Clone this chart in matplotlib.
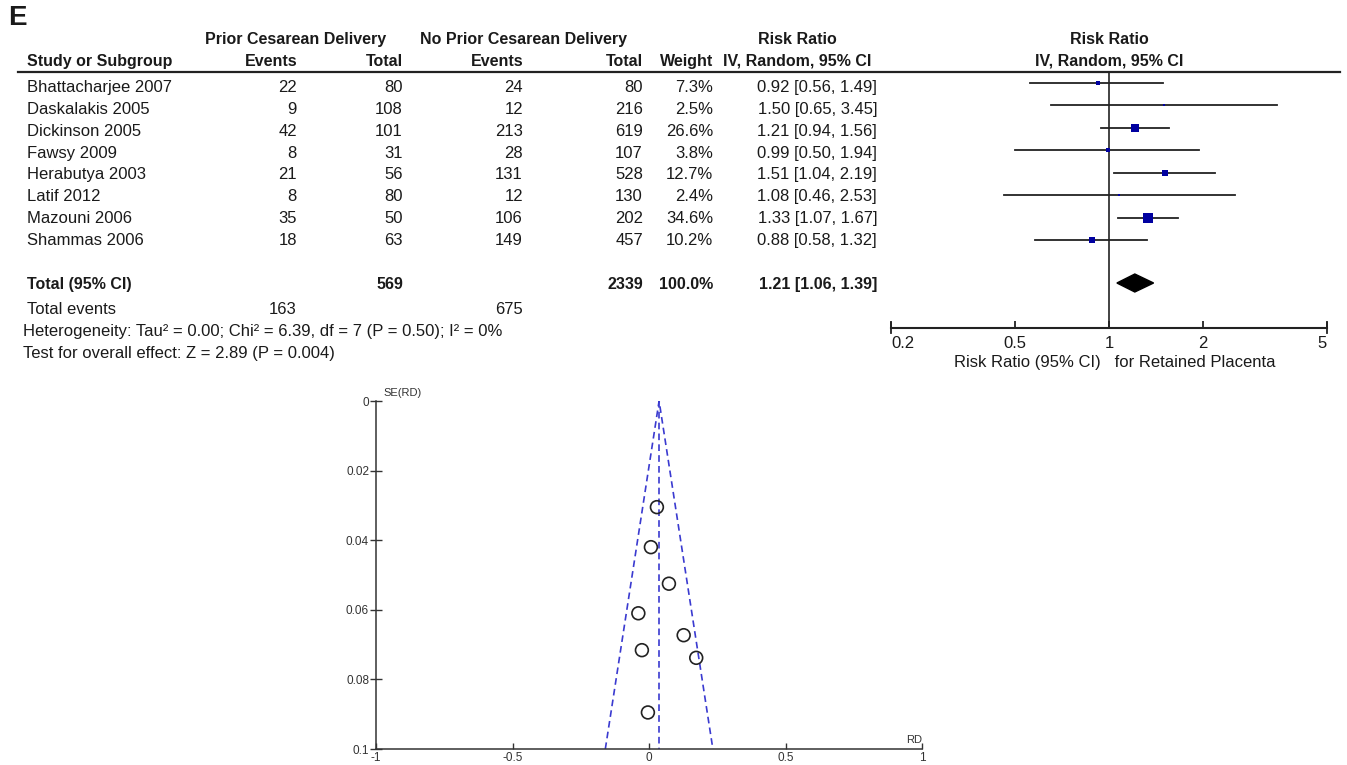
import matplotlib
matplotlib.use("Agg")
import matplotlib.pyplot as plt

# forest plot data
studies = ["Bhattacharjee 2007", "Daskalakis 2005", "Dickinson 2005", "Fawsy 2009",
           "Herabutya 2003", "Latif 2012", "Mazouni 2006", "Shammas 2006"]
prior_events = [22, 9, 42, 8, 21, 8, 35, 18]
prior_total = [80, 108, 101, 31, 56, 80, 50, 63]
noprior_events = [24, 12, 213, 28, 131, 12, 106, 149]
noprior_total = [80, 216, 619, 107, 528, 130, 202, 457]
weight = [7.3, 2.5, 26.6, 3.8, 12.7, 2.4, 34.6, 10.2]
rr = [0.92, 1.50, 1.21, 0.99, 1.51, 1.08, 1.33, 0.88]
rr_lo = [0.56, 0.65, 0.94, 0.50, 1.04, 0.46, 1.07, 0.58]
rr_hi = [1.49, 3.45, 1.56, 1.94, 2.19, 2.53, 1.67, 1.32]
total_rr, total_lo, total_hi = 1.21, 1.06, 1.39
forest_ticks = [0.2, 0.5, 1, 2, 5]
forest_ticklabels = ["0.2", "0.5", "1", "2", "5"]

# funnel plot data
rd = [0.029, 0.007, 0.073, -0.039, 0.127, -0.026, 0.173, -0.004]
se_rd = [0.0305, 0.042, 0.0525, 0.061, 0.0673, 0.0716, 0.0738, 0.0895]
funnel_center = 0.037
funnel_left, funnel_right = -0.16, 0.234
funnel_xticks = [-1, -0.5, 0, 0.5, 1]
funnel_xlabels = ["-1", "-0.5", "0", "0.5", "1"]
funnel_yticks = [0, 0.02, 0.04, 0.06, 0.08, 0.1]
funnel_ylabels = ["0", "0.02", "0.04", "0.06", "0.08", "0.1"]

plt.rcParams['font.family'] = ['Liberation Sans', 'DejaVu Sans']
W, H = 1347, 765
fig = plt.figure(figsize=(W / 100, H / 100), dpi=100)
tc = '#1a1a1a'
fs = 12      # plain text
fsb = 11.5   # bold headers

# background axes in pixel coords for all the table text
bg = fig.add_axes([0, 0, 1, 1])
bg.set_xlim(0, W)
bg.set_ylim(H, 0)
bg.axis('off')

def txt(x, y, s, ha='left', bold=False, size=None):
    if size is None:
        size = fsb if bold else fs
    bg.text(x, y, s, ha=ha, va='center', fontsize=size, color=tc,
            fontweight='bold' if bold else 'normal')

txt(8, 18, "E", bold=True, size=20)
txt(296, 39, "Prior Cesarean Delivery", ha='center', bold=True)
txt(524, 39, "No Prior Cesarean Delivery", ha='center', bold=True)
txt(797, 39, "Risk Ratio", ha='center', bold=True)
txt(1109, 39, "Risk Ratio", ha='center', bold=True)
txt(27, 61, "Study or Subgroup", bold=True)
txt(297, 61, "Events", ha='right', bold=True)
txt(403, 61, "Total", ha='right', bold=True)
txt(523, 61, "Events", ha='right', bold=True)
txt(643, 61, "Total", ha='right', bold=True)
txt(713, 61, "Weight", ha='right', bold=True)
txt(797, 61, "IV, Random, 95% CI", ha='center', bold=True)
txt(1109, 61, "IV, Random, 95% CI", ha='center', bold=True)
bg.plot([18, 1340], [71.5, 71.5], color='#222222', lw=1.6)

for i, name in enumerate(studies):
    y = 87.5 + i * 21.85
    txt(27, y, name)
    txt(297, y, str(prior_events[i]), ha='right')
    txt(403, y, str(prior_total[i]), ha='right')
    txt(523, y, str(noprior_events[i]), ha='right')
    txt(643, y, str(noprior_total[i]), ha='right')
    txt(713, y, f"{weight[i]:.1f}%", ha='right')
    txt(877, y, f"{rr[i]:.2f} [{rr_lo[i]:.2f}, {rr_hi[i]:.2f}]", ha='right')

txt(27, 284, "Total (95% CI)", bold=True)
txt(403, 284, str(sum(prior_total)), ha='right', bold=True)
txt(643, 284, str(sum(noprior_total)), ha='right', bold=True)
txt(713, 284, "100.0%", ha='right', bold=True)
txt(877, 284, f"{total_rr:.2f} [{total_lo:.2f}, {total_hi:.2f}]", ha='right', bold=True)
txt(27, 309, "Total events")
txt(297, 309, str(sum(prior_events)), ha='right')
txt(523, 309, str(sum(noprior_events)), ha='right')
txt(23, 331, "Heterogeneity: Tau² = 0.00; Chi² = 6.39, df = 7 (P = 0.50); I² = 0%")
txt(23, 353, "Test for overall effect: Z = 2.89 (P = 0.004)")
txt(1115, 362, "Risk Ratio (95% CI)   for Retained Placenta", ha='center')

# forest plot
fx0, fx1, fy0, fy1 = 891, 1327, 72, 328
ax = fig.add_axes([fx0 / W, 1 - fy1 / H, (fx1 - fx0) / W, (fy1 - fy0) / H])
ax.set_xscale('log')
ax.set_xlim(0.2, 5)
ax.set_ylim(fy1, fy0)
ax.patch.set_alpha(0)
for s in ['top', 'left', 'right']:
    ax.spines[s].set_visible(False)
ax.spines['bottom'].set_linewidth(1.5)
ax.spines['bottom'].set_color('#222222')
ax.set_xticks(forest_ticks)
ax.set_xticklabels(forest_ticklabels)
ax.minorticks_off()
ax.set_yticks([])
ax.tick_params(axis='x', direction='in', length=5, width=1.3, pad=6,
               labelsize=fs, labelcolor=tc, color='#222222')
labs = ax.get_xticklabels()
labs[0].set_ha('left')
labs[-1].set_ha('right')
ax.axvline(1, color='#222222', lw=1.2)
ax.plot([0.2, 0.2], [fy1 - 5, fy1 + 5], color='#222222', lw=1.3, clip_on=False)
ax.plot([5, 5], [fy1 - 5, fy1 + 5], color='#222222', lw=1.3, clip_on=False)

for i in range(len(studies)):
    y = 82.7 + i * 22.47
    ax.plot([rr_lo[i], rr_hi[i]], [y, y], color='#222222', lw=1.3)
    ax.scatter([rr[i]], [y], s=1.5 * weight[i], marker='s', color='#0000a0', zorder=3,
               linewidths=0)
ax.fill([total_lo, total_rr, total_hi, total_rr], [283, 274, 283, 292], color='black')

# funnel plot
px0, px1, py0, py1 = 376, 922, 401, 749
fa = fig.add_axes([px0 / W, 1 - py1 / H, (px1 - px0) / W, (py1 - py0) / H])
fa.set_xlim(-1, 1)
fa.set_ylim(0.1, 0)
fa.patch.set_alpha(0)
for s in ['top', 'right']:
    fa.spines[s].set_visible(False)
for s in ['left', 'bottom']:
    fa.spines[s].set_linewidth(1.1)
    fa.spines[s].set_color('#333333')
fa.set_xticks(funnel_xticks)
fa.set_xticklabels(funnel_xlabels)
fa.set_yticks(funnel_yticks)
fa.set_yticklabels(funnel_ylabels)
fa.tick_params(axis='x', direction='in', length=4, width=1, pad=2,
               labelsize=8.5, labelcolor='#333333', color='#333333')
fa.tick_params(axis='y', direction='inout', length=8, width=1, pad=1,
               labelsize=8.5, labelcolor='#333333', color='#333333')

fc = '#3a3ad0'
fa.plot([funnel_left, funnel_center, funnel_right], [0.1, 0, 0.1], color=fc, lw=1.2,
        ls=(0, (4, 2.5)))
fa.plot([funnel_center, funnel_center], [0, 0.1], color=fc, lw=1.2, ls=(0, (4, 2.5)))
fa.scatter(rd, se_rd, s=85, facecolors='none', edgecolors='#222222', linewidths=1.2,
           zorder=3)
fa.text(0.013, 1.023, "SE(RD)", transform=fa.transAxes, fontsize=8, color='#333333',
        ha='left', va='center')
fa.text(1.0, 0.025, "RD", transform=fa.transAxes, fontsize=8, color='#333333',
        ha='right', va='center')

fig.savefig("out.png", dpi=100)
